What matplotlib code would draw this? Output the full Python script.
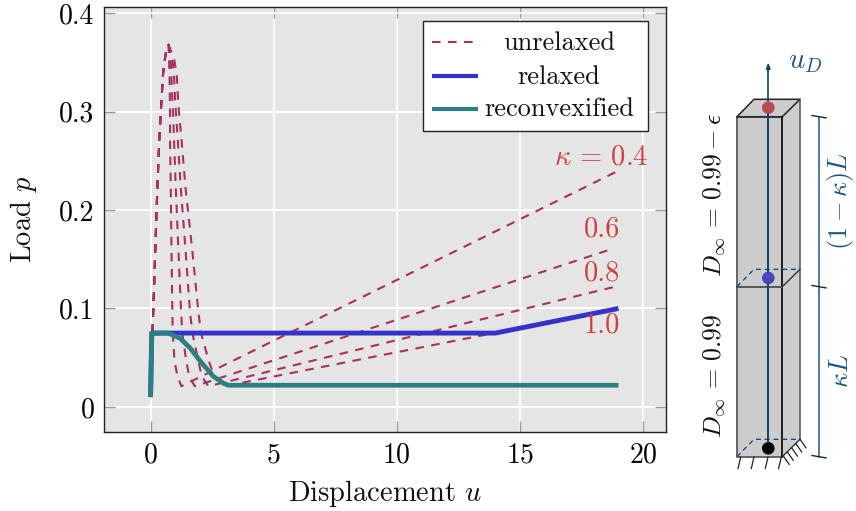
import matplotlib
matplotlib.use("Agg")
import matplotlib.pyplot as plt
from matplotlib.patches import Polygon, Rectangle, Circle

plt.rcParams['font.family'] = ['cmr10', 'DejaVu Serif']
plt.rcParams['mathtext.fontset'] = 'cm'
plt.rcParams['axes.formatter.use_mathtext'] = True

# values
rise_u = [0, 0.02, 0.07, 0.11, 0.28, 0.36, 0.43, 0.51, 0.58, 0.64, 0.73]
rise_p = [0.01, 0.04, 0.075, 0.097, 0.225, 0.274, 0.306, 0.339, 0.353, 0.362, 0.368]
fall_p = [0.354, 0.339, 0.306, 0.274, 0.225, 0.16, 0.097, 0.075, 0.048, 0.031]
fall_u_04 = [0.75, 0.77, 0.79, 0.79, 0.82, 0.85, 0.885, 0.9, 0.97, 1.09]
fall_u_06 = [0.81, 0.84, 0.9, 0.95, 1.02, 1.13, 1.24, 1.29, 1.44, 1.57]
fall_u_08 = [0.88, 0.95, 1.01, 1.1, 1.22, 1.42, 1.6, 1.7, 1.93, 2.08]
fall_u_10 = [0.95, 1.06, 1.13, 1.25, 1.41, 1.69, 1.94, 2.05, 2.35, 2.58]
end_min_u = [1.25, 1.8, 2.35, 3.0]
end_min_p = [0.021, 0.021, 0.021, 0.021]
end_u = [19, 18.8, 19, 19]
end_p = [0.24, 0.161, 0.123, 0.1]

relaxed_u = [0, 0.05, 14, 19]
relaxed_p = [0.01, 0.075, 0.075, 0.1]
reconvex_u = [0, 0.05, 0.72, 1.2, 1.6, 2.08, 2.55, 2.96, 3.17, 19]
reconvex_p = [0.01, 0.075, 0.075, 0.0697, 0.06, 0.0445, 0.031, 0.024, 0.022, 0.022]

x_ticks = [0, 5, 10, 15, 20]
y_ticks = [0, 0.1, 0.2, 0.3, 0.4]
y_tick_labels = ['0', '0.1', '0.2', '0.3', '0.4']

DASH_COL = '#A82F5F'
BLUE = '#3333CC'
TEAL = '#2A8080'
RED = '#CC4040'
NAVY = '#0F4170'
TXT_BLUE = '#1F5488'
DASHES = (4.1, 3.6)

W, H = 856, 511
fig = plt.figure(figsize=(W / 100, H / 100), dpi=100)
ax = fig.add_axes([104 / W, 1 - 432 / H, (666 - 104) / W, (432 - 7.3) / H])
ax.set_facecolor('#E5E5E5')
ax.set_xlim(-1.89, 20.93)
ax.set_ylim(-0.0255, 0.406)
ax.grid(True, color='white', lw=1.3)
ax.set_axisbelow(True)

falls = [fall_u_04, fall_u_06, fall_u_08, fall_u_10]
for i, fall in enumerate(falls):
    us = rise_u + fall + [end_min_u[i], end_u[i]]
    ps = rise_p + fall_p + [end_min_p[i], end_p[i]]
    ax.plot(us, ps, color=DASH_COL, lw=1.5, dashes=DASHES)

ax.plot(relaxed_u, relaxed_p, color=BLUE, lw=3.5, solid_capstyle='butt')
ax.plot(reconvex_u, reconvex_p, color=TEAL, lw=3.4, solid_capstyle='butt')

ax.set_xticks(x_ticks)
ax.set_yticks(y_ticks)
ax.set_yticklabels(y_tick_labels)
ax.tick_params(direction='in', length=8, width=1, color='#999999',
               top=True, right=True, labelsize=20, pad=7)
for s in ax.spines.values():
    s.set_linewidth(1)
    s.set_color('#222222')

# overlay in pixel coordinates for labels, legend and schematic
ov = fig.add_axes([0, 0, 1, 1])
ov.set_xlim(0, W)
ov.set_ylim(H, 0)
ov.axis('off')
ov.patch.set_alpha(0)

ov.text(385, 501, r'Displacement $u$', fontsize=20.5, ha='center', va='baseline', color='#111111')
ov.text(24, 219, r'Load $p$', fontsize=20.5, rotation=90, ha='center', va='center', color='#111111')

# curve labels
ov.text(648, 157, r'$\kappa\,=\,0.4$', color=RED, fontsize=20.5, ha='right', va='center')
for lab, y in zip(['0.6', '0.8', '1.0'], [229, 273, 325]):
    ov.text(620, y, lab, color=RED, fontsize=20.5, ha='right', va='center')

# legend
ov.add_patch(Rectangle((422.7, 20.7), 225.3, 110.6, fc='white', ec='#222222', lw=1))
ov.plot([432.3, 477.7], [42.3, 42.3], color=DASH_COL, lw=1.5, dashes=DASHES)
ov.plot([432.3, 477.7], [75.7, 75.7], color=BLUE, lw=3, solid_capstyle='butt')
ov.plot([432.3, 477.7], [109, 109], color=TEAL, lw=3, solid_capstyle='butt')
for lab, y in zip(['unrelaxed', 'relaxed', 'reconvexified'], [50, 83.5, 116.5]):
    ov.text(559, y, lab, fontsize=19, ha='center', va='baseline', color='#111111')

# bar schematic
GREY = '#CCCCCC'
ov.add_patch(Polygon([(782.3, 116.7), (800, 99.3), (800, 439.3), (782.3, 456.7)], fc=GREY, ec='none'))
ov.add_patch(Polygon([(737, 116.7), (754, 99.3), (800, 99.3), (782.3, 116.7)], fc=GREY, ec='#222222', lw=1.1))
ov.add_patch(Rectangle((737, 116.7), 45.3, 340, fc=GREY, ec='none'))
ov.plot([800, 800], [99.3, 439.3], color='#555555', lw=1.1)
ov.plot([737, 737, 782.3], [116.7, 456.7, 456.7], color='#666666', lw=1.4)
ov.plot([737, 782.3], [116.7, 116.7], color='#333333', lw=1.4)
ov.plot([782.3, 782.3], [116.7, 456.7], color='black', lw=1.2)
ov.plot([737, 782.3], [286.7, 286.7], color='#555555', lw=1.4)
for y_front, y_back in [(286.7, 269.3), (456.7, 439.3)]:
    ov.plot([737, 754, 800], [y_front, y_back, y_back], color=NAVY, lw=0.9, dashes=(4, 3))
    ov.plot([782.3, 800], [y_front, y_back], color='#333333', lw=1.0)

# supports
for x in [740.7, 754, 768, 781.3]:
    ov.plot([x, x - 2.7], [457, 468.5], color='#222222', lw=0.9)
for f in [0.05, 0.28, 0.52, 0.76, 1.0]:
    x0 = 782.3 + 17.7 * f
    y0 = 456.7 - 17.4 * f
    ov.plot([x0, x0 + 6], [y0, y0 + 8.5], color='#222222', lw=0.9)

# axis line with points
ov.plot([768.3, 768.3], [448.3, 68], color=NAVY, lw=1.2)
ov.annotate('', xy=(768.3, 62.5), xytext=(768.3, 72),
            arrowprops=dict(arrowstyle='-|>,head_width=0.13,head_length=0.35', color=NAVY, lw=1, shrinkA=0, shrinkB=0))
ov.add_patch(Circle((768.3, 107.7), 6.3, fc='#B84C50', ec='none', zorder=4))
ov.add_patch(Circle((768.3, 278), 6.3, fc='#4A48B8', ec='none', zorder=4))
ov.add_patch(Circle((768.3, 448.3), 6.3, fc='black', ec='none', zorder=4))
ov.plot([768.3, 768.3], [114, 272], color=NAVY, lw=1.2, zorder=5)
ov.plot([768.3, 768.3], [284, 442], color=NAVY, lw=1.2, zorder=5)

# dimension line
ov.plot([819, 819], [116.7, 456.7], color=TXT_BLUE, lw=1.1)
for y in [116.7, 286.7, 456.7]:
    ov.plot([812, 826], [y - 1.2, y + 1.2], color='#222222', lw=1.0)

# schematic labels
ov.text(805, 62, r'$u_D$', color=TXT_BLUE, fontsize=20.5, ha='center', va='center')
ov.text(841, 201, r'$(1-\kappa)L$', color=TXT_BLUE, fontsize=19, rotation=90, ha='center', va='center')
ov.text(841, 371, r'$\kappa L$', color=TXT_BLUE, fontsize=19, rotation=90, ha='center', va='center')
ov.text(714, 195, r'$D_\infty\,=\,0.99-\epsilon$', color='#111111', fontsize=18.5, rotation=90, ha='center', va='center')
ov.text(714, 376, r'$D_\infty\,=\,0.99$', color='#111111', fontsize=18.5, rotation=90, ha='center', va='center')

fig.savefig('out.png', dpi=100)
